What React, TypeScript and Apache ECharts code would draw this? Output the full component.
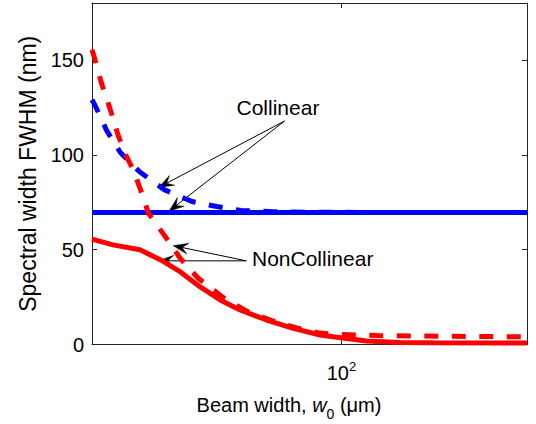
import React, { useEffect, useRef } from "react";
import * as echarts from "echarts";

// Beam width w0 (µm) – log axis range
const xRange = [30, 245];
const yRange = [0, 180];
const yTickStep = 50;
const xTickValues = [100];

// Collinear (blue)
const blueSolidW = [30, 245];
const blueSolidV = [69.6, 69.6];
const blueDashedW = [30, 30.4, 32.2, 34.4, 37.7, 42.6, 48.6, 54.8, 61.7, 72, 85, 120, 245];
const blueDashedV = [129, 126.4, 112.8, 101.2, 91.2, 81.5, 75.4, 72.7, 70.6, 70.0, 69.7, 69.6, 69.6];

// NonCollinear (red)
const redSolidW = [30, 33.2, 37.8, 41.8, 45.9, 50.5, 55.7, 61.3, 69.7, 79.3, 90.2, 96.1, 112.9, 132.6, 155.7, 245];
const redSolidV = [55.5, 52.5, 49.9, 44.6, 38.4, 30.5, 23.5, 18.2, 12.9, 8.5, 5.0, 4.1, 1.85, 1.1, 0.9, 0.8];
const redDashedW = [30, 30.3, 31.4, 32.7, 34.0, 35.3, 36.6, 37.8, 39.4, 42.0, 43.7, 45.9, 50.1, 56.5, 63.3, 71.9, 80.6, 90.1, 100, 119, 165, 245];
const redDashedV = [155.4, 151.9, 137.8, 124.6, 110.6, 100.0, 92.1, 82.6, 69.2, 59.5, 53.4, 45.5, 34.9, 24.8, 17.6, 12.4, 8.7, 6.0, 5.3, 4.7, 4.3, 4.1];

// Annotation labels and arrows: [tail, tip] in data coordinates
const annotationLabels = ["Collinear", "NonCollinear"];
const collinearTail = [76.0, 117.8];
const collinearTips = [
  [41.4, 82.8],
  [43.5, 70.3],
];
const nonCollinearTail = [63.2, 44.1];
const nonCollinearTips = [
  [44.4, 52.1],
  [41.4, 44.1],
];

const FONT = "'Liberation Sans', Arial, Helvetica, sans-serif";
const AXIS_COLOR = "#222";

const pairs = (w: number[], v: number[]) => w.map((x, i) => [x, v[i]]);

export default function App() {
  const ref = useRef<HTMLDivElement>(null);

  useEffect(() => {
    if (!ref.current) return;
    const chart = echarts.init(ref.current, null, { renderer: "svg" });

    const axisLine = { show: true, onZero: false, lineStyle: { color: AXIS_COLOR, width: 1 } };

    chart.setOption({
      animation: false,
      backgroundColor: "#fff",
      textStyle: { fontFamily: FONT },
      grid: { left: 92, right: 9, top: 3, bottom: 79.5, containLabel: false, outerBoundsMode: "none" },
      xAxis: [
        {
          type: "log",
          min: xRange[0],
          max: xRange[1],
          position: "bottom",
          axisLine,
          axisTick: { show: true, inside: true, length: 5, customValues: xTickValues, lineStyle: { color: AXIS_COLOR } },
          minorTick: { show: false },
          splitLine: { show: false },
          axisLabel: {
            show: true,
            customValues: xTickValues,
            margin: 15,
            color: "#000",
            formatter: () => "{b|10}{p|2}",
            rich: {
              b: { fontSize: 20, fontFamily: FONT, color: "#000" },
              p: { fontSize: 13, fontFamily: FONT, color: "#000", padding: [0, 0, 14, 0] },
            },
          },
          name: "{a|Beam width, }{i|w}{s|0}{a| (μm)}",
          nameLocation: "middle",
          nameGap: 44,
          nameTextStyle: {
            padding: [0, 41, 0, 0],
            rich: {
              a: { fontSize: 20, fontFamily: FONT, color: "#000" },
              i: { fontSize: 20, fontFamily: FONT, fontStyle: "italic", color: "#000" },
              s: { fontSize: 14, fontFamily: FONT, color: "#000", padding: [18, 0, 0, 0] },
            },
          },
        },
        {
          type: "log",
          min: xRange[0],
          max: xRange[1],
          position: "top",
          axisLine,
          axisTick: { show: true, inside: true, length: 5, customValues: xTickValues, lineStyle: { color: AXIS_COLOR } },
          minorTick: { show: false },
          splitLine: { show: false },
          axisLabel: { show: false },
        },
      ],
      yAxis: [
        {
          type: "value",
          min: yRange[0],
          max: yRange[1],
          interval: yTickStep,
          position: "left",
          axisLine,
          axisTick: { show: true, inside: true, length: 5, lineStyle: { color: AXIS_COLOR } },
          splitLine: { show: false },
          axisLabel: { show: true, margin: 8, fontSize: 20, color: "#000", fontFamily: FONT, showMaxLabel: false },
          name: "Spectral width FWHM (nm)",
          nameLocation: "middle",
          nameRotate: 90,
          nameGap: 44,
          nameTextStyle: { fontSize: 23, color: "#000", fontFamily: FONT },
        },
        {
          type: "value",
          min: yRange[0],
          max: yRange[1],
          interval: yTickStep,
          position: "right",
          axisLine,
          axisTick: { show: true, inside: true, length: 5, lineStyle: { color: AXIS_COLOR } },
          splitLine: { show: false },
          axisLabel: { show: false },
        },
      ],
      series: [
        {
          name: "Collinear solid",
          type: "line",
          data: pairs(blueSolidW, blueSolidV),
          showSymbol: false,
          symbol: "none",
          lineStyle: { color: "#0000ff", width: 5 },
        },
        {
          name: "Collinear dashed",
          type: "line",
          data: pairs(blueDashedW, blueDashedV),
          showSymbol: false,
          symbol: "none",
          lineStyle: { color: "#0000ff", width: 5, type: [14, 13.5], cap: "butt" },
        },
        {
          name: "NonCollinear solid",
          type: "line",
          data: pairs(redSolidW, redSolidV),
          showSymbol: false,
          symbol: "none",
          lineStyle: { color: "#ff0000", width: 5 },
        },
        {
          name: "NonCollinear dashed",
          type: "line",
          data: pairs(redDashedW, redDashedV),
          showSymbol: false,
          symbol: "none",
          lineStyle: { color: "#ff0000", width: 5, type: [14, 13.5], cap: "butt" },
        },
      ],
    });

    // Arrows: computed from data coordinates through the chart's own axes
    const toPx = (p: number[]) =>
      chart.convertToPixel({ xAxisIndex: 0, yAxisIndex: 0 }, p) as number[];

    const arrow = (tail: number[], tip: number[]) => {
      const a = toPx(tail);
      const b = toPx(tip);
      const dx = b[0] - a[0];
      const dy = b[1] - a[1];
      const len = Math.hypot(dx, dy) || 1;
      const ux = dx / len;
      const uy = dy / len;
      const nx = -uy;
      const ny = ux;
      const L = 15;
      const W = 5.5;
      const notch = 0.6 * L;
      return [
        {
          type: "line",
          silent: true,
          shape: { x1: a[0], y1: a[1], x2: b[0] - ux * notch, y2: b[1] - uy * notch },
          style: { stroke: "#000", lineWidth: 1 },
        },
        {
          type: "polygon",
          silent: true,
          shape: {
            points: [
              [b[0], b[1]],
              [b[0] - ux * L + nx * W, b[1] - uy * L + ny * W],
              [b[0] - ux * notch, b[1] - uy * notch],
              [b[0] - ux * L - nx * W, b[1] - uy * L - ny * W],
            ],
          },
          style: { fill: "#000", stroke: "#000", lineWidth: 0.5 },
        },
      ];
    };

    const graphics: any[] = [];
    collinearTips.forEach((t) => graphics.push(...arrow(collinearTail, t)));
    nonCollinearTips.forEach((t) => graphics.push(...arrow(nonCollinearTail, t)));
    graphics.push(
      {
        type: "text",
        x: 236.5,
        y: 107,
        style: { text: annotationLabels[0], fontSize: 21, fontFamily: FONT, fill: "#000", verticalAlign: "middle", align: "left" },
      },
      {
        type: "text",
        x: 252,
        y: 258.5,
        style: { text: annotationLabels[1], fontSize: 21, fontFamily: FONT, fill: "#000", verticalAlign: "middle", align: "left" },
      }
    );
    chart.setOption({ graphic: graphics });

    return () => chart.dispose();
  }, []);

  return (
    <div
      ref={ref}
      style={{ position: "fixed", left: 0, top: 0, width: 536, height: 424, background: "#fff" }}
    />
  );
}
